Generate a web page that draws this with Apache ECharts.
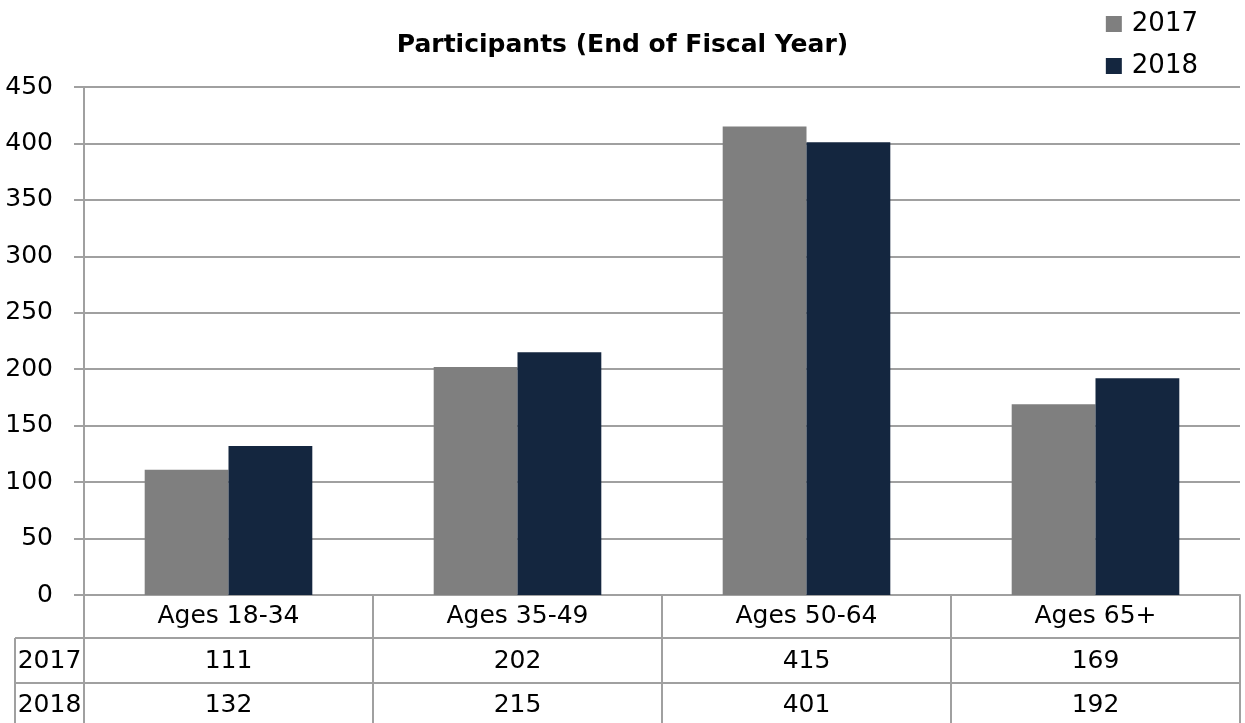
<!DOCTYPE html>
<html>
<head>
<meta charset="utf-8">
<script src="https://cdn.jsdelivr.net/npm/echarts@6/dist/echarts.min.js"></script>
<style>
  html, body { margin: 0; padding: 0; background: #fff; }
  #chart { width: 1245px; height: 723px; }
</style>
</head>
<body>
<div id="chart"></div>
<script>
const categories = ['Ages 18-34', 'Ages 35-49', 'Ages 50-64', 'Ages 65+']
const seriesNames = ['2017', '2018']
const values2017 = [111, 202, 415, 169]
const values2018 = [132, 215, 401, 192]

const FONT = 'DejaVu Sans'
const GRAY = '#7f7f7f'
const NAVY = '#14263f'
const LINE = '#a0a0a0'

const chart = echarts.init(document.getElementById('chart'))

// data table under the axis, one column per category
function renderTable(params, api) {
  const i = api.value(0)
  const p = api.coord([i, 0])
  const w = api.size([1, 0])[0]
  const x0 = p[0] - w / 2
  const x1 = p[0] + w / 2
  const y0 = p[1]
  const rows = [43, 88, 133]
  const lineStyle = { stroke: LINE, lineWidth: 2 }
  const cellText = (txt, x, y) => ({
    type: 'text',
    style: { text: txt, x, y, align: 'center', verticalAlign: 'middle', font: `25px "${FONT}"`, fill: '#000' },
  })
  const left = i === 0 ? 15 : x0
  const children = rows.map((dy) => ({
    type: 'line',
    shape: { x1: left, y1: y0 + dy, x2: x1, y2: y0 + dy },
    style: lineStyle,
  }))
  children.push(cellText(String(api.value(1)), p[0], y0 + 66))
  children.push(cellText(String(api.value(2)), p[0], y0 + 110))
  if (i === 0) {
    children.push({
      type: 'line',
      shape: { x1: 15, y1: y0 + 43, x2: 15, y2: y0 + 133 },
      style: lineStyle,
    })
    children.push(cellText(seriesNames[0], (15 + x0) / 2, y0 + 66))
    children.push(cellText(seriesNames[1], (15 + x0) / 2, y0 + 110))
  }
  return { type: 'group', children }
}

const option = {
  animation: false,
  textStyle: { fontFamily: FONT },
  title: {
    text: 'Participants (End of Fiscal Year)',
    left: 'center',
    top: 28,
    textStyle: { fontSize: 25, fontWeight: 'bold', color: '#000', fontFamily: FONT },
  },
  legend: {
    data: seriesNames,
    orient: 'vertical',
    right: 42,
    top: 6,
    itemWidth: 16,
    itemHeight: 16,
    itemGap: 16,
    icon: 'rect',
    textStyle: { fontSize: 26, color: '#000', padding: [0, 0, 0, 5] },
  },
  grid: {
    left: 84,
    right: 5,
    top: 87,
    bottom: 128,
    outerBoundsMode: 'none',
  },
  xAxis: {
    type: 'category',
    data: categories,
    axisLine: { lineStyle: { color: LINE, width: 2 } },
    axisTick: { show: true, interval: 0, length: 133, lineStyle: { color: LINE, width: 2 } },
    axisLabel: { fontSize: 25, color: '#000', margin: 9, interval: 0 },
  },
  yAxis: {
    type: 'value',
    min: 0,
    max: 450,
    interval: 50,
    axisLine: { show: true, lineStyle: { color: LINE, width: 2 } },
    axisTick: { show: true, length: 10, lineStyle: { color: LINE, width: 2 } },
    axisLabel: { fontSize: 25, color: '#000', margin: 31 },
    splitLine: { lineStyle: { color: LINE, width: 2 } },
  },
  series: [
    {
      name: seriesNames[0],
      type: 'bar',
      data: values2017,
      itemStyle: { color: GRAY },
      barGap: '0%',
      barCategoryGap: '42%',
    },
    {
      name: seriesNames[1],
      type: 'bar',
      data: values2018,
      itemStyle: { color: NAVY },
    },
    {
      type: 'custom',
      renderItem: renderTable,
      clip: false,
      silent: true,
      data: categories.map((c, i) => [i, values2017[i], values2018[i]]),
      z: 5,
    },
  ],
}

chart.setOption(option)
</script>
</body>
</html>
